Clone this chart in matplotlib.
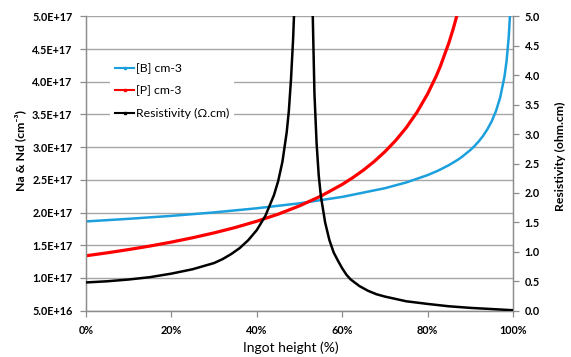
import matplotlib
matplotlib.use("Agg")
import matplotlib.pyplot as plt
from matplotlib.lines import Line2D

plt.rcParams['font.family'] = ['Lato', 'DejaVu Sans']

# ---------------- data ----------------
b_height = [0, 10, 20, 30, 40, 50, 60, 70, 75, 80, 82.5, 85, 87, 88, 90, 91, 92,
            93, 94, 95, 96, 97, 98, 98.5, 99, 99.3, 99.5]
b_conc = [1.865e17, 1.905e17, 1.950e17, 2.003e17, 2.066e17, 2.142e17, 2.240e17,
          2.373e17, 2.461e17, 2.573e17, 2.643e17, 2.726e17, 2.805e17, 2.850e17,
          2.956e17, 3.019e17, 3.091e17, 3.174e17, 3.274e17, 3.395e17, 3.550e17,
          3.761e17, 4.078e17, 4.320e17, 4.685e17, 5.03e17, 5.381e17]

p_height = [0, 5, 10, 15, 20, 25, 30, 35, 40, 45, 50, 55, 60, 62.5, 65, 67.5, 70,
            72.5, 75, 77.5, 80, 82, 83, 85, 86, 87, 88]
p_conc = [1.340e17, 1.385e17, 1.435e17, 1.489e17, 1.549e17, 1.616e17, 1.690e17,
          1.773e17, 1.868e17, 1.976e17, 2.103e17, 2.252e17, 2.431e17, 2.535e17,
          2.651e17, 2.782e17, 2.931e17, 3.101e17, 3.299e17, 3.533e17, 3.815e17,
          4.085e17, 4.240e17, 4.599e17, 4.810e17, 5.047e17, 5.317e17]

r_height = [0, 5, 10, 15, 20, 25, 30, 32, 34, 36, 38, 40, 42, 44, 45, 46, 47, 47.5,
            48, 48.5, 49, 49.5, 50, 51.5, 52.5, 53, 53.5, 54, 54.5, 55, 56, 57, 58,
            59, 60, 61, 62, 64, 66, 68, 70, 72.5, 75, 80, 85, 90, 95, 100]
r_rho = [0.48, 0.50, 0.53, 0.57, 0.63, 0.705, 0.81, 0.877, 0.962, 1.064, 1.198,
         1.37, 1.61, 1.96, 2.20, 2.53, 3.03, 3.39, 3.92, 4.61, 5.56, 6.9, 9.1, 12.0,
         9.8, 5.36, 3.69, 2.85, 2.30, 1.95, 1.50, 1.20, 0.99, 0.85, 0.72, 0.61, 0.53,
         0.42, 0.34, 0.28, 0.24, 0.20, 0.16, 0.115, 0.075, 0.048, 0.028, 0.008]

x_ticks = [0, 20, 40, 60, 80, 100]
x_ticklabels = ['0%', '20%', '40%', '60%', '80%', '100%']
left_ticks = [0.5e17, 1.0e17, 1.5e17, 2.0e17, 2.5e17, 3.0e17, 3.5e17, 4.0e17, 4.5e17, 5.0e17]
left_ticklabels = ['5.0E+16', '1.0E+17', '1.5E+17', '2.0E+17', '2.5E+17', '3.0E+17',
                   '3.5E+17', '4.0E+17', '4.5E+17', '5.0E+17']
right_ticks = [0.0, 0.5, 1.0, 1.5, 2.0, 2.5, 3.0, 3.5, 4.0, 4.5, 5.0]
right_ticklabels = ['0.0', '0.5', '1.0', '1.5', '2.0', '2.5', '3.0', '3.5', '4.0', '4.5', '5.0']

labels = ['[B] cm-3', '[P] cm-3', 'Resistivity (\u03a9.cm)']

# ---------------- styling ----------------
W, H = 571, 357
BLUE = '#1CA0DD'
RED = '#FF0000'
BLACK = '#000000'
GRID = '#A6A6A6'
SPINE = '#8C8C8C'
TXT = '#000000'

fig = plt.figure(figsize=(W / 100, H / 100), dpi=100)
L, R, T, B = 86, 513, 16.4, 310.7
ax1 = fig.add_axes([L / W, 1 - B / H, (R - L) / W, (B - T) / H])
ax2 = ax1.twinx()

ax1.plot(b_height, b_conc, color=BLUE, lw=1.8, solid_capstyle='butt', zorder=3)
ax1.plot(p_height, p_conc, color=RED, lw=2.3, solid_capstyle='butt', zorder=4)
ax2.plot(r_height, r_rho, color=BLACK, lw=1.8, solid_capstyle='butt', zorder=3)

ax1.set_xlim(0, 100)
ax1.set_ylim(0.5e17, 5.0e17)
ax2.set_ylim(0, 5.0)

ax1.set_xticks(x_ticks)
ax1.set_xticklabels(x_ticklabels)
ax1.set_yticks(left_ticks)
ax1.set_yticklabels(left_ticklabels)
ax2.set_yticks(right_ticks)
ax2.set_yticklabels(right_ticklabels)

ax1.yaxis.grid(True, color=GRID, lw=1.0)
ax1.set_axisbelow(True)

for ax in (ax1, ax2):
    for s in ax.spines.values():
        s.set_color(SPINE)
        s.set_linewidth(0.9)
    ax.spines['top'].set_visible(False)

TS = 7.8
ax1.tick_params(axis='y', length=4, width=0.9, color=SPINE, pad=5.8,
                labelsize=TS, labelcolor=TXT)
ax1.tick_params(axis='x', length=4, width=0.9, color=SPINE, pad=6.0,
                labelsize=TS, labelcolor=TXT)
ax2.tick_params(axis='y', length=4, width=0.9, color=SPINE, pad=4.5,
                labelsize=TS, labelcolor=TXT)
for lab in ax1.get_xticklabels() + ax1.get_yticklabels() + ax2.get_yticklabels():
    lab.set_fontweight('bold')

fig.text(20 / W, 1 - 150 / H, 'Na & Nd (cm\u207b\u00b3)', rotation=90, fontsize=8.8,
         fontweight='bold', ha='center', va='center', color=TXT)
fig.text(560 / W, 1 - 156 / H, 'Resistivity (ohm.cm)', rotation=90, fontsize=8.8,
         fontweight='bold', ha='center', va='center', color=TXT)
fig.text(291 / W, 1 - 348 / H, 'Ingot height (%)', fontsize=10,
         ha='center', va='center', color=TXT)

handles = [Line2D([], [], color=BLUE, lw=1.5, marker='s', markersize=1.8),
           Line2D([], [], color=RED, lw=1.5, marker='s', markersize=1.8),
           Line2D([], [], color=BLACK, lw=1.5, marker='s', markersize=1.8)]
leg = ax2.legend(handles, labels, loc='upper left',
                 bbox_to_anchor=(110 / W, 1 - 58 / H), bbox_transform=fig.transFigure,
                 fontsize=8.8, frameon=True, facecolor='white', edgecolor='none',
                 framealpha=1, fancybox=False, handlelength=1.6, handletextpad=0.15,
                 labelspacing=0.95, borderpad=0.4, borderaxespad=0)
for t in leg.get_texts():
    t.set_color(TXT)

fig.savefig('out.png', dpi=100)
